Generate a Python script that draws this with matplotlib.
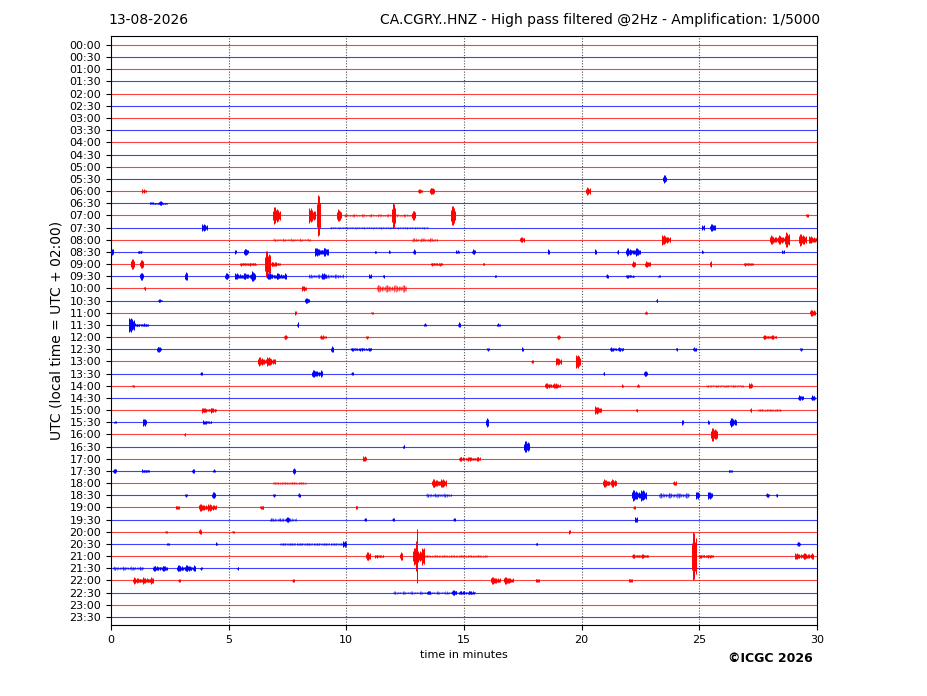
import matplotlib
matplotlib.use("Agg")
import matplotlib.pyplot as plt

# helicorder: one trace per half hour, 30 minutes wide
row_labels = ["%02d:%02d" % (h, m) for h in range(24) for m in (0, 30)]
trace_colors = ["red", "blue"]
date_text = "13-08-2026"
station_text = "CA.CGRY..HNZ - High pass filtered @2Hz - Amplification: 1/5000"

# bursts: (row, onset minute, half height in rows, length in minutes)
bursts = [
    ("05:30", 23.45, 0.30, 0.15),
    ("06:00", 1.30, 0.15, 0.20), ("06:00", 13.05, 0.15, 0.20), ("06:00", 13.55, 0.28, 0.20),
    ("06:00", 20.20, 0.30, 0.20),
    ("06:30", 1.65, 0.08, 0.75), ("06:30", 2.05, 0.15, 0.15),
    ("07:00", 6.90, 0.70, 0.30), ("07:00", 8.40, 0.60, 0.30), ("07:00", 8.75, 1.70, 0.15),
    ("07:00", 9.60, 0.50, 0.20), ("07:00", 9.90, 0.10, 2.90), ("07:00", 11.95, 1.00, 0.15),
    ("07:00", 12.80, 0.40, 0.15), ("07:00", 14.45, 0.80, 0.20), ("07:00", 29.55, 0.15, 0.10),
    ("07:30", 3.85, 0.30, 0.25), ("07:30", 9.30, 0.08, 4.20), ("07:30", 25.10, 0.20, 0.15),
    ("07:30", 25.45, 0.28, 0.25),
    ("08:00", 6.90, 0.10, 1.60), ("08:00", 12.80, 0.15, 1.10), ("08:00", 17.40, 0.22, 0.20),
    ("08:00", 23.40, 0.40, 0.40), ("08:00", 28.00, 0.35, 0.80), ("08:00", 28.65, 0.60, 0.20),
    ("08:00", 29.25, 0.50, 0.30), ("08:00", 29.65, 0.30, 0.35),
    ("08:30", 0.00, 0.25, 0.10), ("08:30", 1.15, 0.10, 0.20), ("08:30", 5.25, 0.15, 0.10),
    ("08:30", 5.65, 0.25, 0.20), ("08:30", 8.65, 0.35, 0.60), ("08:30", 11.20, 0.10, 0.10),
    ("08:30", 11.80, 0.12, 0.10), ("08:30", 12.85, 0.20, 0.10), ("08:30", 14.65, 0.12, 0.15),
    ("08:30", 15.35, 0.20, 0.15), ("08:30", 18.55, 0.20, 0.10), ("08:30", 20.55, 0.20, 0.10),
    ("08:30", 21.50, 0.15, 0.10), ("08:30", 21.90, 0.30, 0.60), ("08:30", 25.10, 0.12, 0.10),
    ("08:30", 28.50, 0.12, 0.15),
    ("09:00", 0.85, 0.40, 0.15), ("09:00", 1.25, 0.35, 0.15), ("09:00", 5.50, 0.12, 0.70),
    ("09:00", 6.55, 1.10, 0.25), ("09:00", 6.80, 0.20, 0.40), ("09:00", 13.60, 0.12, 0.50),
    ("09:00", 15.80, 0.10, 0.10), ("09:00", 22.15, 0.22, 0.15), ("09:00", 22.70, 0.22, 0.25),
    ("09:00", 25.45, 0.25, 0.10), ("09:00", 26.90, 0.12, 0.40),
    ("09:30", 1.25, 0.30, 0.15), ("09:30", 3.15, 0.35, 0.10), ("09:30", 4.85, 0.25, 0.15),
    ("09:30", 5.25, 0.25, 0.70), ("09:30", 5.95, 0.40, 0.20), ("09:30", 6.65, 0.25, 0.80),
    ("09:30", 8.40, 0.15, 1.50), ("09:30", 8.95, 0.25, 0.20), ("09:30", 10.95, 0.15, 0.15),
    ("09:30", 11.55, 0.12, 0.10), ("09:30", 16.30, 0.10, 0.10), ("09:30", 21.05, 0.15, 0.10),
    ("09:30", 21.90, 0.12, 0.35), ("09:30", 23.25, 0.10, 0.10),
    ("10:00", 1.40, 0.15, 0.10), ("10:00", 8.10, 0.20, 0.20), ("10:00", 11.30, 0.30, 1.25),
    ("10:30", 2.00, 0.10, 0.20), ("10:30", 8.25, 0.20, 0.20), ("10:30", 23.15, 0.12, 0.10),
    ("11:00", 7.80, 0.15, 0.10), ("11:00", 11.05, 0.10, 0.10), ("11:00", 22.70, 0.12, 0.10),
    ("11:00", 29.70, 0.25, 0.25),
    ("11:30", 0.75, 0.60, 0.25), ("11:30", 1.00, 0.12, 0.60), ("11:30", 7.90, 0.20, 0.10),
    ("11:30", 13.30, 0.12, 0.10), ("11:30", 14.75, 0.20, 0.10), ("11:30", 16.40, 0.12, 0.15),
    ("12:00", 7.35, 0.15, 0.15), ("12:00", 8.90, 0.15, 0.25), ("12:00", 10.85, 0.12, 0.10),
    ("12:00", 18.95, 0.15, 0.15), ("12:00", 27.70, 0.15, 0.60),
    ("12:30", 1.95, 0.20, 0.20), ("12:30", 9.35, 0.25, 0.10), ("12:30", 10.20, 0.12, 0.90),
    ("12:30", 16.00, 0.12, 0.10), ("12:30", 17.45, 0.15, 0.10), ("12:30", 21.20, 0.15, 0.60),
    ("12:30", 24.00, 0.12, 0.10), ("12:30", 24.75, 0.15, 0.15), ("12:30", 29.30, 0.12, 0.10),
    ("13:00", 6.25, 0.35, 0.75), ("13:00", 17.85, 0.12, 0.10), ("13:00", 18.90, 0.30, 0.25),
    ("13:00", 19.75, 0.55, 0.20),
    ("13:30", 3.80, 0.12, 0.10), ("13:30", 8.55, 0.30, 0.45), ("13:30", 10.20, 0.12, 0.10),
    ("13:30", 20.90, 0.12, 0.10), ("13:30", 22.65, 0.20, 0.15),
    ("14:00", 0.90, 0.10, 0.10), ("14:00", 18.45, 0.20, 0.65), ("14:00", 21.70, 0.12, 0.10),
    ("14:00", 22.35, 0.12, 0.10), ("14:00", 25.30, 0.10, 1.60), ("14:00", 27.10, 0.22, 0.15),
    ("14:30", 29.20, 0.20, 0.25), ("14:30", 29.75, 0.20, 0.20),
    ("15:00", 3.85, 0.20, 0.65), ("15:00", 20.55, 0.30, 0.30), ("15:00", 22.30, 0.12, 0.10),
    ("15:00", 27.15, 0.15, 0.10), ("15:00", 27.50, 0.10, 1.00),
    ("15:30", 0.15, 0.10, 0.10), ("15:30", 1.35, 0.30, 0.15), ("15:30", 3.90, 0.15, 0.40),
    ("15:30", 15.95, 0.35, 0.10), ("15:30", 24.25, 0.20, 0.10), ("15:30", 25.35, 0.15, 0.10),
    ("15:30", 26.30, 0.35, 0.30),
    ("16:00", 3.10, 0.10, 0.10), ("16:00", 25.50, 0.55, 0.30),
    ("16:30", 12.40, 0.15, 0.10), ("16:30", 17.55, 0.45, 0.25),
    ("17:00", 10.70, 0.20, 0.15), ("17:00", 14.80, 0.15, 0.90),
    ("17:30", 0.10, 0.20, 0.15), ("17:30", 1.30, 0.12, 0.35), ("17:30", 3.45, 0.20, 0.10),
    ("17:30", 4.35, 0.12, 0.10), ("17:30", 7.75, 0.25, 0.10), ("17:30", 26.25, 0.10, 0.15),
    ("18:00", 6.90, 0.10, 1.40), ("18:00", 13.65, 0.35, 0.60), ("18:00", 20.90, 0.30, 0.60),
    ("18:00", 23.90, 0.15, 0.15),
    ("18:30", 3.15, 0.12, 0.10), ("18:30", 4.30, 0.25, 0.15), ("18:30", 6.90, 0.12, 0.10),
    ("18:30", 7.95, 0.15, 0.10), ("18:30", 13.40, 0.15, 1.10), ("18:30", 22.15, 0.45, 0.60),
    ("18:30", 23.30, 0.20, 1.30), ("18:30", 24.85, 0.30, 0.15), ("18:30", 25.35, 0.30, 0.20),
    ("18:30", 27.85, 0.15, 0.15), ("18:30", 28.25, 0.12, 0.10),
    ("19:00", 2.75, 0.15, 0.15), ("19:00", 3.75, 0.30, 0.75), ("19:00", 6.35, 0.15, 0.15),
    ("19:00", 10.40, 0.15, 0.10), ("19:00", 22.20, 0.12, 0.10),
    ("19:30", 6.75, 0.15, 1.15), ("19:30", 7.45, 0.20, 0.15), ("19:30", 10.75, 0.12, 0.10),
    ("19:30", 11.95, 0.12, 0.10), ("19:30", 14.55, 0.12, 0.10), ("19:30", 22.25, 0.20, 0.15),
    ("20:00", 2.30, 0.10, 0.10), ("20:00", 3.75, 0.20, 0.10), ("20:00", 5.15, 0.10, 0.10),
    ("20:00", 19.45, 0.15, 0.10),
    ("20:30", 2.40, 0.10, 0.10), ("20:30", 4.45, 0.12, 0.10), ("20:30", 7.20, 0.10, 2.80),
    ("20:30", 9.85, 0.25, 0.15), ("20:30", 18.05, 0.10, 0.10), ("20:30", 29.15, 0.15, 0.15),
    ("21:00", 10.85, 0.35, 0.20), ("21:00", 11.20, 0.12, 0.40), ("21:00", 12.30, 0.35, 0.10),
    ("21:00", 12.85, 0.70, 0.50), ("21:00", 12.95, 2.20, 0.10), ("21:00", 13.00, 0.10, 3.00),
    ("21:00", 22.15, 0.15, 0.70), ("21:00", 24.70, 2.00, 0.20), ("21:00", 25.00, 0.12, 0.60),
    ("21:00", 29.05, 0.25, 0.80),
    ("21:30", 0.10, 0.15, 1.30), ("21:30", 1.80, 0.20, 0.60), ("21:30", 2.80, 0.25, 0.80),
    ("21:30", 3.80, 0.10, 0.10), ("21:30", 5.35, 0.10, 0.10),
    ("22:00", 0.95, 0.25, 0.85), ("22:00", 2.85, 0.12, 0.10), ("22:00", 7.70, 0.12, 0.10),
    ("22:00", 16.15, 0.30, 0.40), ("22:00", 16.70, 0.30, 0.40), ("22:00", 18.05, 0.15, 0.15),
    ("22:00", 22.00, 0.15, 0.15),
    ("22:30", 12.00, 0.10, 2.80), ("22:30", 13.45, 0.15, 0.15), ("22:30", 14.50, 0.20, 0.20),
    ("22:30", 14.80, 0.15, 0.70),
]

# stroke heights inside a burst (drawing texture, relative to the burst height)
stroke_scale = [0.55, 1.0, 0.8, 0.95, 0.6, 0.75, 0.5, 0.65, 0.4, 0.55, 0.35, 0.45]
stroke_step = 0.03  # minutes between strokes

fig = plt.figure(figsize=(9.27, 6.96), dpi=100)
ax = fig.add_axes([0.1197, 0.102, 0.7616, 0.8463])

rows = list(range(len(row_labels)))
row_of = {lab: i for i, lab in enumerate(row_labels)}
for i in rows:
    ax.plot([0, 30], [i, i], color=trace_colors[i % 2], lw=0.8, alpha=0.75, zorder=2)

for lab, t, amp, dur in bursts:
    y = row_of[lab]
    c = trace_colors[y % 2]
    n = max(3, int(round(dur / stroke_step)))
    xs, lo, hi = [], [], []
    for k in range(n):
        s = stroke_scale[k % len(stroke_scale)]
        xs.append(t + k * dur / n)
        lo.append(y - s * amp)
        hi.append(y + s * amp)
    # long low-level noise is fainter than the real events
    a = 0.55 if dur >= 1.0 else 1.0
    ax.vlines(xs, lo, hi, color=c, lw=0.7, alpha=a, zorder=3)

for g in [5, 10, 15, 20, 25]:
    ax.axvline(g, color="#555555", ls=(0, (1, 1.5)), lw=0.8, zorder=1)

ax.set_xlim(0, 30)
ax.set_ylim(47.66, -0.74)
ax.set_yticks(rows)
ax.set_yticklabels(row_labels, fontsize=8)
ax.set_xticks([0, 5, 10, 15, 20, 25, 30])
ax.tick_params(axis="x", labelsize=8)
ax.set_xlabel("time in minutes", fontsize=8)
ax.set_ylabel("UTC (local time = UTC + 02:00)", fontsize=10)

fig.text(0.1165, 0.971, date_text, fontsize=10, va="center", ha="left")
fig.text(0.885, 0.971, station_text, fontsize=10, va="center", ha="right")
fig.text(0.831, 0.054, "\u00a9ICGC 2026", fontsize=9, fontweight="bold", ha="center", va="center")

fig.savefig("out.png", dpi=100)
